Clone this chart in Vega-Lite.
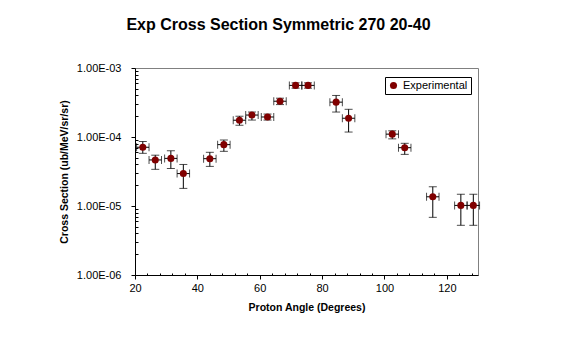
{
  "$schema": "https://vega.github.io/schema/vega-lite/v6.json",
  "width": 343,
  "height": 207,
  "autosize": {"type": "none"},
  "padding": {"left": 135, "top": 68, "right": 85, "bottom": 63},
  "background": "white",
  "title": {
    "text": "Exp Cross Section Symmetric 270 20-40",
    "font": "Liberation Sans",
    "fontSize": 16,
    "fontWeight": "bold",
    "color": "black",
    "anchor": "middle",
    "frame": "group",
    "baseline": "alphabetic",
    "dx": -28,
    "offset": 16
  },
  "config": {
    "view": {"stroke": "#808080", "strokeWidth": 1},
    "font": "Liberation Sans",
    "axis": {
      "grid": false,
      "domainColor": "black",
      "tickColor": "black",
      "labelColor": "black",
      "titleColor": "black",
      "labelFont": "Liberation Sans",
      "titleFont": "Liberation Sans"
    },
    "legend": {
      "orient": "none",
      "legendX": 250,
      "legendY": 9,
      "strokeColor": "black",
      "fillColor": "white",
      "padding": 3,
      "labelFont": "Liberation Sans",
      "labelFontSize": 11,
      "labelColor": "black",
      "symbolSize": 50
    }
  },
  "data": {
    "values": [
      {"angle": 22.5, "cs": 7.1e-5, "lo": 5.8e-5, "hi": 8.6e-5, "xlo": 20.5, "xhi": 24.5},
      {"angle": 26.5, "cs": 4.65e-5, "lo": 3.4e-5, "hi": 5.45e-5, "xlo": 24.5, "xhi": 28.5},
      {"angle": 31.5, "cs": 4.9e-5, "lo": 3.5e-5, "hi": 6.3e-5, "xlo": 29.5, "xhi": 33.5},
      {"angle": 35.5, "cs": 2.95e-5, "lo": 1.8e-5, "hi": 4.0e-5, "xlo": 33.5, "xhi": 37.5},
      {"angle": 44.0, "cs": 4.85e-5, "lo": 3.75e-5, "hi": 6.0e-5, "xlo": 42.0, "xhi": 46.0},
      {"angle": 48.5, "cs": 7.75e-5, "lo": 6.2e-5, "hi": 9.05e-5, "xlo": 46.5, "xhi": 50.5},
      {"angle": 53.5, "cs": 1.75e-4, "lo": 1.48e-4, "hi": 2.0e-4, "xlo": 51.5, "xhi": 55.5},
      {"angle": 57.5, "cs": 2.08e-4, "lo": 1.76e-4, "hi": 2.3e-4, "xlo": 55.5, "xhi": 59.5},
      {"angle": 62.5, "cs": 1.95e-4, "lo": 1.76e-4, "hi": 2.15e-4, "xlo": 60.5, "xhi": 64.5},
      {"angle": 66.5, "cs": 3.3e-4, "lo": 2.95e-4, "hi": 3.65e-4, "xlo": 64.5, "xhi": 68.5},
      {"angle": 71.5, "cs": 5.6e-4, "lo": 5.1e-4, "hi": 6.1e-4, "xlo": 69.5, "xhi": 73.5},
      {"angle": 75.5, "cs": 5.6e-4, "lo": 5.1e-4, "hi": 6.1e-4, "xlo": 73.5, "xhi": 77.5},
      {"angle": 84.5, "cs": 3.2e-4, "lo": 2.3e-4, "hi": 4.0e-4, "xlo": 82.5, "xhi": 86.5},
      {"angle": 88.5, "cs": 1.87e-4, "lo": 1.18e-4, "hi": 2.52e-4, "xlo": 86.5, "xhi": 90.5},
      {"angle": 102.5, "cs": 1.1e-4, "lo": 9.4e-5, "hi": 1.23e-4, "xlo": 100.5, "xhi": 104.5},
      {"angle": 106.5, "cs": 7.0e-5, "lo": 5.6e-5, "hi": 8.1e-5, "xlo": 104.5, "xhi": 108.5},
      {"angle": 115.5, "cs": 1.36e-5, "lo": 6.85e-6, "hi": 1.9e-5, "xlo": 113.5, "xhi": 117.5},
      {"angle": 124.5, "cs": 1.02e-5, "lo": 5.25e-6, "hi": 1.48e-5, "xlo": 122.5, "xhi": 126.5},
      {"angle": 128.5, "cs": 1.02e-5, "lo": 5.25e-6, "hi": 1.48e-5, "xlo": 126.5, "xhi": 130.5}
    ]
  },
  "resolve": {"axis": {"x": "independent", "y": "independent"}},
  "layer": [
    {
      "mark": {"type": "rule", "color": "black", "strokeWidth": 1},
      "encoding": {
        "x": {
          "field": "angle", "type": "quantitative",
          "scale": {"domain": [20, 130], "nice": false, "zero": false},
          "axis": {
            "orient": "bottom",
            "values": [20, 40, 60, 80, 100, 120],
            "title": "Proton Angle (Degrees)",
            "titleFontSize": 10.5,
            "titleFontWeight": "bold",
            "titlePadding": 9,
            "labelFontSize": 11,
            "labelPadding": 3,
            "tickSize": 4,
            "labelFlush": false
          }
        },
        "y": {
          "field": "lo", "type": "quantitative",
          "scale": {"type": "log", "domain": [1e-6, 1e-3], "nice": false},
          "axis": {
            "orient": "left",
            "values": [1e-6, 1e-5, 1e-4, 1e-3],
            "labelExpr": "'1.00E-0' + round(-log(datum.value) / LN10)",
            "title": "Cross Section (ub/MeV/sr/sr)",
            "titleFontSize": 10.5,
            "titleFontWeight": "bold",
            "titlePadding": 7,
            "labelFontSize": 11,
            "labelPadding": 10,
            "tickSize": 4,
            "labelFlush": false
          }
        },
        "y2": {"field": "hi"}
      }
    },
    {
      "mark": {"type": "tick", "orient": "horizontal", "color": "black", "size": 8, "thickness": 1},
      "encoding": {
        "x": {"field": "angle", "type": "quantitative", "scale": {"domain": [20, 130], "nice": false, "zero": false}, "axis": null},
        "y": {"field": "lo", "type": "quantitative", "scale": {"type": "log", "domain": [1e-6, 1e-3], "nice": false}, "axis": null}
      }
    },
    {
      "mark": {"type": "tick", "orient": "horizontal", "color": "black", "size": 8, "thickness": 1},
      "encoding": {
        "x": {"field": "angle", "type": "quantitative", "scale": {"domain": [20, 130], "nice": false, "zero": false}, "axis": null},
        "y": {"field": "hi", "type": "quantitative", "scale": {"type": "log", "domain": [1e-6, 1e-3], "nice": false}, "axis": null}
      }
    },
    {
      "mark": {"type": "rule", "color": "black", "strokeWidth": 1},
      "encoding": {
        "x": {
          "field": "xlo", "type": "quantitative",
          "scale": {"domain": [20, 130], "nice": false, "zero": false},
          "axis": {
            "orient": "bottom",
            "values": [24, 28, 32, 36, 44, 48, 52, 56, 64, 68, 72, 76, 84, 88, 92, 96, 104, 108, 112, 116, 124, 128],
            "labels": false, "domain": false, "title": null, "tickSize": -2, "grid": false
          }
        },
        "x2": {"field": "xhi"},
        "y": {
          "field": "cs", "type": "quantitative",
          "scale": {"type": "log", "domain": [1e-6, 1e-3], "nice": false},
          "axis": {
            "orient": "left",
            "values": [2e-6, 3e-6, 4e-6, 5e-6, 6e-6, 7e-6, 8e-6, 9e-6, 2e-5, 3e-5, 4e-5, 5e-5, 6e-5, 7e-5, 8e-5, 9e-5, 2e-4, 3e-4, 4e-4, 5e-4, 6e-4, 7e-4, 8e-4, 9e-4],
            "labels": false, "domain": false, "title": null, "tickSize": -3, "grid": false
          }
        }
      }
    },
    {
      "mark": {"type": "tick", "orient": "vertical", "color": "black", "size": 8, "thickness": 1},
      "encoding": {
        "x": {"field": "xlo", "type": "quantitative", "scale": {"domain": [20, 130], "nice": false, "zero": false}, "axis": null},
        "y": {"field": "cs", "type": "quantitative", "scale": {"type": "log", "domain": [1e-6, 1e-3], "nice": false}, "axis": null}
      }
    },
    {
      "mark": {"type": "tick", "orient": "vertical", "color": "black", "size": 8, "thickness": 1},
      "encoding": {
        "x": {"field": "xhi", "type": "quantitative", "scale": {"domain": [20, 130], "nice": false, "zero": false}, "axis": null},
        "y": {"field": "cs", "type": "quantitative", "scale": {"type": "log", "domain": [1e-6, 1e-3], "nice": false}, "axis": null}
      }
    },
    {
      "mark": {"type": "point", "shape": "circle", "filled": true, "size": 50, "opacity": 1},
      "encoding": {
        "x": {"field": "angle", "type": "quantitative", "scale": {"domain": [20, 130], "nice": false, "zero": false}, "axis": null},
        "y": {"field": "cs", "type": "quantitative", "scale": {"type": "log", "domain": [1e-6, 1e-3], "nice": false}, "axis": null},
        "color": {
          "datum": "Experimental",
          "type": "nominal",
          "scale": {"range": ["#800000"]},
          "legend": {"title": null}
        }
      }
    }
  ]
}
